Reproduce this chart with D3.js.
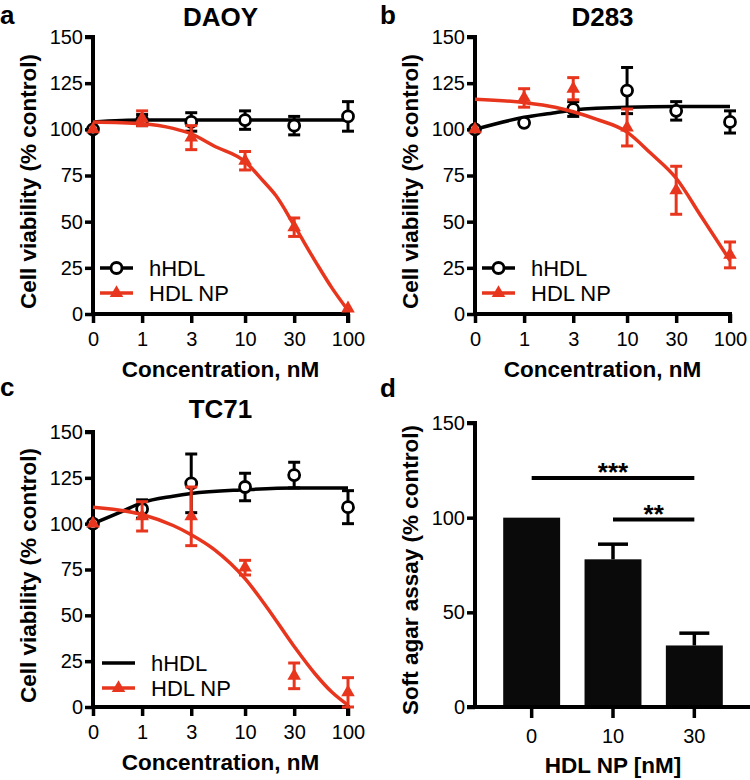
<!DOCTYPE html>
<html>
<head>
<meta charset="utf-8">
<script src="https://cdn.jsdelivr.net/npm/d3@7"></script>
<style>
  html, body { margin: 0; padding: 0; background: #fff; }
  svg text { font-family: "Liberation Sans", Arial, Helvetica, sans-serif; }
</style>
</head>
<body>
<svg id="chart" width="750" height="780"></svg>
<script>
// ---------------- DATA ----------------
const concentrations = [0, 1, 3, 10, 30, 100];
const concTickLabels = ["0", "1", "3", "10", "30", "100"];
const viabilityTicks = [0, 25, 50, 75, 100, 125, 150];

// Panel a: DAOY
const daoyHHDL = [100, 105, 104, 105, 102, 107];
const daoyHHDLErr = [0, 3, 5, 5, 5, 8];
const daoyNP = [100, 106, 95.5, 83, 47, 3];
const daoyNPErr = [0, 4, 6.5, 5, 5, 0];
const daoyHHDLFitConc = [0, 1, 3, 10, 30, 100];
const daoyHHDLFitVal = [104, 105, 105, 105, 105, 105];
const daoyNPFitConc = [0, 1, 2, 3, 5, 10, 15, 20, 30, 50, 70, 100];
const daoyNPFitVal = [104, 103, 100.5, 97.5, 91, 82.5, 72, 64, 48, 27, 14, 2];

// Panel b: D283
const d283HHDL = [100, 103.5, 111, 121, 110, 104];
const d283HHDLErr = [0, 0, 4, 12.5, 5, 6];
const d283NP = [100, 117, 122, 101, 67, 32];
const d283NPErr = [0, 5, 6, 10, 13, 7];
const d283HHDLFitConc = [0, 1, 2, 3, 10, 30, 100];
const d283HHDLFitVal = [100, 106.5, 109, 110.5, 112, 112.3, 112.3];
const d283NPFitConc = [0, 1, 2, 3, 5, 10, 17, 30, 53, 100];
const d283NPFitVal = [116.3, 114.5, 112, 109.5, 105.5, 98.5, 87, 73.5, 52.5, 29];

// Panel c: TC71
const tc71HHDL = [100, 108, 122, 120, 126.5, 109];
const tc71HHDLErr = [0, 5, 16, 7.5, 7, 9];
const tc71NP = [100, 104, 104, 76, 17, 8];
const tc71NPErr = [0, 8, 16, 4, 7, 8];
const tc71HHDLFitConc = [0, 0.6, 1, 2, 3, 10, 30, 100];
const tc71HHDLFitVal = [100, 106, 111.5, 115, 116.5, 118.5, 119.5, 119.5];
const tc71NPFitConc = [0, 1, 2, 3, 5, 10, 16, 30, 48, 70, 100];
const tc71NPFitVal = [109, 105, 99, 94, 86, 70, 55, 33, 18, 8, 1];

// Panel d: soft agar
const agarCategories = ["0", "10", "30"];
const agarValues = [100, 78, 32.5];
const agarErr = [0, 8, 6.5];
const agarTicks = [0, 50, 100, 150];
const sigLabels = ["***", "**"];
const sigFrom = ["0", "10"];
const sigTo = ["30", "30"];
const sigLevel = [121, 99];

const seriesNames = ["hHDL", "HDL NP"];

// ---------------- STYLE ----------------
const RED = "#e8361e";
const BLACK = "#000";
const FONT_TICK = 20;
const svg = d3.select("#chart");

function concPos(c) { return c === 0 ? 1 / 3 : c; }

function drawCurvePanel(opt) {
  const g = svg.append("g");
  const x = d3.scaleLog().domain([1 / 3, 100]).range([opt.x0, opt.x1]);
  const y = d3.scaleLinear().domain([0, 150]).range([opt.y0, opt.y1]);

  // axes
  const yAxis = d3.axisLeft(y).tickValues(viabilityTicks).tickSize(8).tickPadding(2).tickFormat(d3.format("d"));
  const ya = g.append("g").attr("transform", `translate(${opt.x0},0)`).call(yAxis);
  const xAxis = d3.axisBottom(x).tickValues(concentrations.map(concPos)).tickSize(9).tickPadding(9)
    .tickFormat((d, i) => concTickLabels[i]);
  const xa = g.append("g").attr("transform", `translate(0,${opt.y0})`).call(xAxis);
  [ya, xa].forEach(a => {
    a.select(".domain").attr("stroke", BLACK).attr("stroke-width", 4);
    a.selectAll(".tick line").attr("stroke", BLACK).attr("stroke-width", 3.5);
    a.selectAll(".tick text").attr("font-size", FONT_TICK).attr("fill", BLACK);
  });
  ya.select(".domain").attr("d", `M0,${opt.y0 + 2}V${opt.y1}H-8`);
  xa.select(".domain").attr("d", `M${opt.x0 - 2},0H${opt.x1}V9`);

  // titles
  g.append("text").attr("x", (opt.x0 + opt.x1) / 2).attr("y", opt.titleY)
    .attr("text-anchor", "middle").attr("font-size", 26).attr("font-weight", "bold").text(opt.title);
  g.append("text").attr("x", (opt.x0 + opt.x1) / 2).attr("y", opt.y0 + 63)
    .attr("text-anchor", "middle").attr("font-size", 22.5).attr("font-weight", "bold").text("Concentration, nM");
  g.append("text").attr("transform", `translate(${opt.x0 - 57},${(opt.y0 + opt.y1) / 2 + 6}) rotate(-90)`)
    .attr("text-anchor", "middle").attr("font-size", 22.5).attr("font-weight", "bold").text("Cell viability (% control)");
  g.append("text").attr("x", opt.letterX).attr("y", opt.letterY).attr("font-size", 26)
    .attr("font-weight", "bold").text(opt.letter);

  const line = d3.line().x(d => x(concPos(d[0]))).y(d => y(d[1])).curve(d3.curveMonotoneX);

  function series(fitC, fitV, vals, errs, color, marker) {
    g.append("path").datum(fitC.map((c, i) => [c, fitV[i]])).attr("d", line)
      .attr("fill", "none").attr("stroke", color).attr("stroke-width", 3.5);
    const pts = concentrations.map((c, i) => ({ c, v: vals[i], e: errs[i] }));
    const eb = g.append("g").attr("stroke", color).attr("stroke-width", 3).attr("fill", "none");
    pts.filter(p => p.e > 0).forEach(p => {
      const cx = x(concPos(p.c));
      eb.append("line").attr("x1", cx).attr("x2", cx).attr("y1", y(p.v - p.e)).attr("y2", y(p.v + p.e));
      [p.v - p.e, p.v + p.e].forEach(v => {
        eb.append("line").attr("x1", cx - 6).attr("x2", cx + 6).attr("y1", y(v)).attr("y2", y(v));
      });
    });
    pts.forEach(p => drawMarker(g, marker, x(concPos(p.c)), y(p.v), color));
  }
  series(opt.hFitC, opt.hFitV, opt.hVals, opt.hErr, BLACK, "circle");
  series(opt.nFitC, opt.nFitV, opt.nVals, opt.nErr, RED, "triangle");

  // legend
  const lg = g.append("g");
  const entries = [
    { name: seriesNames[0], color: BLACK, marker: opt.legendCircle ? "circle" : null },
    { name: seriesNames[1], color: RED, marker: "triangle" }
  ];
  entries.forEach((e, i) => {
    const ly = opt.legendY + i * 25;
    lg.append("line").attr("x1", opt.legendX).attr("x2", opt.legendX + 33).attr("y1", ly).attr("y2", ly)
      .attr("stroke", e.color).attr("stroke-width", 3.5);
    if (e.marker) drawMarker(lg, e.marker, opt.legendX + 16.5, ly, e.color);
    lg.append("text").attr("x", opt.legendX + 49).attr("y", ly + 8).attr("font-size", 22).text(e.name);
  });
}

function drawMarker(g, type, cx, cy, color) {
  if (type === "circle") {
    g.append("circle").attr("cx", cx).attr("cy", cy).attr("r", 5.5)
      .attr("fill", "#fff").attr("stroke", color).attr("stroke-width", 2.8);
  } else if (type === "triangle") {
    g.append("path").attr("d", d3.symbol(d3.symbolTriangle, 80)())
      .attr("transform", `translate(${cx},${cy})`).attr("fill", color);
  }
}

drawCurvePanel({
  x0: 93, x1: 348, y0: 314, y1: 37, title: "DAOY", titleY: 26, letter: "a", letterX: 0, letterY: 24,
  hVals: daoyHHDL, hErr: daoyHHDLErr, nVals: daoyNP, nErr: daoyNPErr,
  hFitC: daoyHHDLFitConc, hFitV: daoyHHDLFitVal, nFitC: daoyNPFitConc, nFitV: daoyNPFitVal,
  legendX: 100, legendY: 268, legendCircle: true
});
drawCurvePanel({
  x0: 475, x1: 730, y0: 314, y1: 37, title: "D283", titleY: 26, letter: "b", letterX: 380, letterY: 24,
  hVals: d283HHDL, hErr: d283HHDLErr, nVals: d283NP, nErr: d283NPErr,
  hFitC: d283HHDLFitConc, hFitV: d283HHDLFitVal, nFitC: d283NPFitConc, nFitV: d283NPFitVal,
  legendX: 482, legendY: 268, legendCircle: true
});
drawCurvePanel({
  x0: 93, x1: 348, y0: 707, y1: 432, title: "TC71", titleY: 418, letter: "c", letterX: 0, letterY: 396,
  hVals: tc71HHDL, hErr: tc71HHDLErr, nVals: tc71NP, nErr: tc71NPErr,
  hFitC: tc71HHDLFitConc, hFitV: tc71HHDLFitVal, nFitC: tc71NPFitConc, nFitV: tc71NPFitVal,
  legendX: 102, legendY: 663, legendCircle: false
});

// ---------------- Panel d ----------------
(function () {
  const g = svg.append("g");
  const x0 = 475, y0 = 707, y1 = 423;
  const x = d3.scaleBand().domain(agarCategories).range([491, 735]).paddingInner(0.3).paddingOuter(0.15);
  const y = d3.scaleLinear().domain([0, 150]).range([y0, y1]);

  g.selectAll("rect.bar").data(agarCategories).join("rect").attr("class", "bar")
    .attr("x", d => x(d)).attr("width", x.bandwidth())
    .attr("y", (d, i) => y(agarValues[i])).attr("height", (d, i) => y0 - y(agarValues[i]))
    .attr("fill", "#0a0a0a");

  agarCategories.forEach((c, i) => {
    if (agarErr[i] <= 0) return;
    const cx = x(c) + x.bandwidth() / 2;
    g.append("line").attr("x1", cx).attr("x2", cx).attr("y1", y(agarValues[i])).attr("y2", y(agarValues[i] + agarErr[i]))
      .attr("stroke", BLACK).attr("stroke-width", 3.5);
    g.append("line").attr("x1", cx - 15).attr("x2", cx + 15).attr("y1", y(agarValues[i] + agarErr[i]))
      .attr("y2", y(agarValues[i] + agarErr[i])).attr("stroke", BLACK).attr("stroke-width", 3.5);
  });

  const ya = g.append("g").attr("transform", `translate(${x0},0)`)
    .call(d3.axisLeft(y).tickValues(agarTicks).tickSize(8).tickPadding(2));
  const xa = g.append("g").attr("transform", `translate(0,${y0})`)
    .call(d3.axisBottom(x).tickSize(11).tickPadding(11));
  [ya, xa].forEach(a => {
    a.select(".domain").attr("stroke", BLACK).attr("stroke-width", 4);
    a.selectAll(".tick line").attr("stroke", BLACK).attr("stroke-width", 3.5);
    a.selectAll(".tick text").attr("font-size", FONT_TICK).attr("fill", BLACK);
  });
  ya.select(".domain").attr("d", `M0,${y0 + 2}V${y1}H-8`);
  xa.select(".domain").attr("d", `M${x0 - 8},0H750`);

  sigLabels.forEach((s, i) => {
    const xa1 = x(sigFrom[i]) + x.bandwidth() / 2, xa2 = x(sigTo[i]) + x.bandwidth() / 2;
    const ly = y(sigLevel[i]);
    g.append("line").attr("x1", xa1).attr("x2", xa2).attr("y1", ly).attr("y2", ly)
      .attr("stroke", BLACK).attr("stroke-width", 4);
    g.append("text").attr("x", (xa1 + xa2) / 2).attr("y", ly + 3).attr("text-anchor", "middle")
      .attr("font-size", 26).attr("font-weight", "bold").text(s);
  });

  g.append("text").attr("x", 613).attr("y", 773).attr("text-anchor", "middle")
    .attr("font-size", 22.5).attr("font-weight", "bold").text("HDL NP [nM]");
  g.append("text").attr("transform", `translate(${x0 - 57},${(y0 + y1) / 2 + 5}) rotate(-90)`)
    .attr("text-anchor", "middle").attr("font-size", 22.5).attr("font-weight", "bold").text("Soft agar assay (% control)");
  g.append("text").attr("x", 380).attr("y", 397).attr("font-size", 26).attr("font-weight", "bold").text("d");
})();
</script>
</body>
</html>
